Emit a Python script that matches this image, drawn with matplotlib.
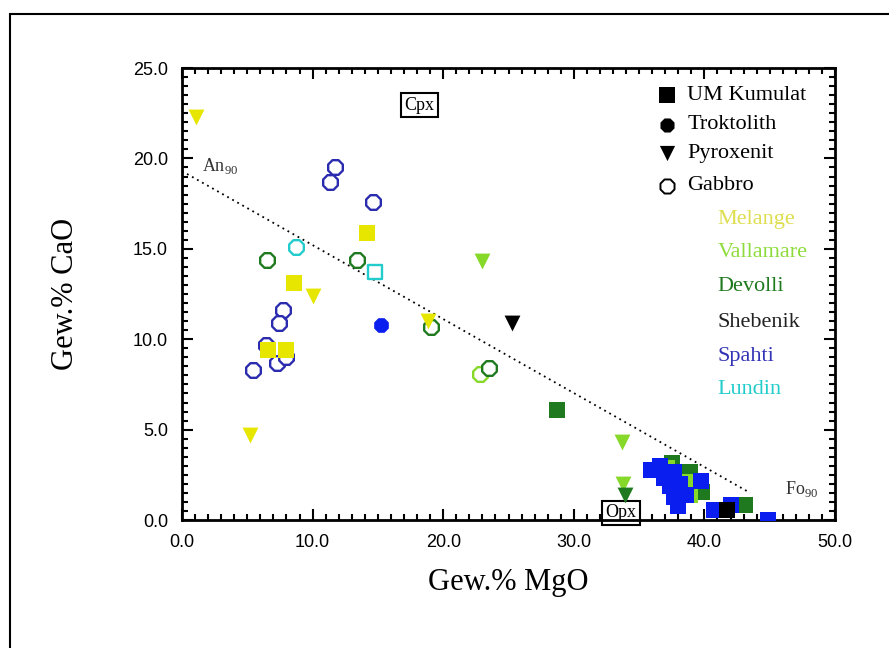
import matplotlib.pyplot as plt
from matplotlib.patches import Rectangle
from matplotlib.ticker import MultipleLocator, FormatStrFormatter

# Farben der Lokalitaeten
col_melange = "#e6e600"
col_vallamare = "#86d829"
col_devolli = "#1f7a1f"
col_shebenik = "#000000"
col_spahti = "#2b2bb0"
col_spahti_f = "#0a1ef0"
col_lundin = "#22cccc"

# Melange
mel_pyr_mgo = [1.1, 10.0, 5.2, 18.8]
mel_pyr_cao = [22.3, 12.4, 4.7, 11.0]
mel_um_mgo = [14.2, 8.6, 6.6, 8.0]
mel_um_cao = [15.9, 13.1, 9.4, 9.4]

# Vallamare
val_pyr_mgo = [23.0, 33.7, 33.8]
val_pyr_cao = [14.3, 4.3, 2.0]
val_gab_mgo = [22.8]
val_gab_cao = [8.1]
val_um_mgo = [37.1, 38.8, 38.9]
val_um_cao = [2.9, 2.1, 1.4]

# Devolli
dev_gab_mgo = [6.5, 13.4, 23.5, 19.1]
dev_gab_cao = [14.4, 14.4, 8.4, 10.7]
dev_um_mgo = [28.7, 37.5, 38.9, 39.8, 43.1]
dev_um_cao = [6.1, 3.15, 2.65, 1.55, 0.85]
dev_pyr_mgo = [33.9]
dev_pyr_cao = [1.4]

# Shebenik
she_pyr_mgo = [25.3]
she_pyr_cao = [10.9]
she_um_mgo = [41.7]
she_um_cao = [0.55]

# Spahti
spa_gab_mgo = [11.7, 11.3, 14.6, 7.7, 7.4, 6.4, 7.3, 8.0, 5.4]
spa_gab_cao = [19.5, 18.7, 17.6, 11.6, 10.9, 9.7, 8.7, 9.0, 8.3]
spa_tro_mgo = [15.2]
spa_tro_cao = [10.8]
spa_um_mgo = [35.9, 36.6, 36.9, 37.7, 37.4, 38.1, 38.6, 37.7, 38.0, 39.7, 40.7, 42.0, 44.9]
spa_um_cao = [2.77, 3.0, 2.3, 2.65, 1.9, 2.0, 1.4, 1.27, 0.77, 2.16, 0.55, 0.83, 0.0]

# Lundin
lun_gab_mgo = [8.7, 14.8]
lun_gab_cao = [15.1, 13.7]

# Mischungslinie An90 - Fo90
line_mgo = [0.0, 43.5]
line_cao = [19.3, 1.5]

plt.rcParams['font.family'] = ['Liberation Serif', 'DejaVu Serif']

fig = plt.figure(figsize=(8.89, 6.48), dpi=100)
ax = fig.add_axes([0.2047, 0.1975, 0.7346, 0.6975])

# Rahmen um die Grafik
fig.patches.append(Rectangle((10 / 889, -0.1), 1.1, 1 - 14 / 648 + 0.1,
                             transform=fig.transFigure, fill=False,
                             edgecolor="black", linewidth=1.5))

ax.plot(line_mgo, line_cao, linestyle=(0, (1, 2.2)), color="black", linewidth=1.3, zorder=1)

ms = 130
lw = 1.7

def hollow(x, y, c, m="8", s=ms):
    ax.scatter(x, y, s=s, marker=m, facecolors="white", edgecolors=c, linewidths=lw, zorder=3)

def filled(x, y, c, m, s=ms):
    ax.scatter(x, y, s=s, marker=m, color=c, linewidths=0, zorder=3)

hollow(val_gab_mgo, val_gab_cao, col_vallamare)
hollow(dev_gab_mgo, dev_gab_cao, col_devolli)
hollow(spa_gab_mgo, spa_gab_cao, col_spahti)
hollow(lun_gab_mgo[:1], lun_gab_cao[:1], col_lundin)
hollow(lun_gab_mgo[1:], lun_gab_cao[1:], col_lundin, "s", 110)
filled(mel_pyr_mgo, mel_pyr_cao, col_melange, "v", 130)
filled(mel_um_mgo, mel_um_cao, col_melange, "s", 120)
filled(spa_tro_mgo, spa_tro_cao, col_spahti_f, "8")
filled(she_pyr_mgo, she_pyr_cao, col_shebenik, "v", 130)
filled(dev_um_mgo, dev_um_cao, col_devolli, "s", 130)
filled(val_um_mgo, val_um_cao, col_vallamare, "s", 130)
filled(spa_um_mgo, spa_um_cao, col_spahti_f, "s", 140)
filled(she_um_mgo, she_um_cao, col_shebenik, "s", 130)
filled(val_pyr_mgo, val_pyr_cao, col_vallamare, "v", 130)
filled(dev_pyr_mgo, dev_pyr_cao, col_devolli, "v", 130)

# Beschriftungen
ax.text(18.2, 22.95, "Cpx", ha="center", va="center", fontsize=13,
        bbox=dict(boxstyle="square,pad=0.2", facecolor="white", edgecolor="black", linewidth=1.5))
ax.text(33.6, 0.4, "Opx", ha="center", va="center", fontsize=13, zorder=2,
        bbox=dict(boxstyle="square,pad=0.2", facecolor="white", edgecolor="black", linewidth=1.5))
ax.text(1.5, 19.6, r"An$_{\mathregular{90}}$", ha="left", va="center", fontsize=13, color="#333333")
ax.text(46.2, 1.7, r"Fo$_{\mathregular{90}}$", ha="left", va="center", fontsize=13, color="#333333")

# Legende (Gesteinstypen)
leg_x = 37.1
leg_tx = 38.7
leg_rows = [23.5, 21.85, 20.3, 18.5]
leg_names = ["UM Kumulat", "Troktolith", "Pyroxenit", "Gabbro"]
leg_markers = ["s", "8", "v", "8"]
for yv, name, mk in zip(leg_rows, leg_names, leg_markers):
    if name == "Gabbro":
        ax.scatter(leg_x, yv, s=120, marker=mk, facecolors="white", edgecolors="black", linewidths=1.4)
    else:
        ax.scatter(leg_x, yv, s=120, marker=mk, color="black", linewidths=0)
    ax.text(leg_tx, yv, name, ha="left", va="center", fontsize=16)

# Legende (Lokalitaeten)
loc_names = ["Melange", "Vallamare", "Devolli", "Shebenik", "Spahti", "Lundin"]
loc_cols = ["#dede50", "#8edc3c", col_devolli, "#222222", "#3333b5", col_lundin]
loc_rows = [16.6, 14.8, 12.9, 10.95, 9.07, 7.2]
for yv, name, c in zip(loc_rows, loc_names, loc_cols):
    ax.text(41.0, yv, name, ha="left", va="center", fontsize=16, color=c)

ax.set_xlim(0, 50)
ax.set_ylim(0, 25)
ax.xaxis.set_major_locator(MultipleLocator(10))
ax.xaxis.set_minor_locator(MultipleLocator(1))
ax.yaxis.set_major_locator(MultipleLocator(5))
ax.yaxis.set_minor_locator(MultipleLocator(0.5))
ax.xaxis.set_major_formatter(FormatStrFormatter("%.1f"))
ax.yaxis.set_major_formatter(FormatStrFormatter("%.1f"))
ax.tick_params(which="both", direction="in", top=True, right=True, width=1.5)
ax.tick_params(which="major", length=8, labelsize=13, pad=10)
ax.tick_params(which="minor", length=4)
for lab in ax.get_xticklabels() + ax.get_yticklabels():
    lab.set_family("Liberation Sans")
for sp in ax.spines.values():
    sp.set_linewidth(2)

ax.set_xlabel("Gew.% MgO", fontsize=22, labelpad=12)
ax.set_ylabel("Gew.% CaO", fontsize=22, labelpad=38)

fig.savefig("out.png", dpi=100)
